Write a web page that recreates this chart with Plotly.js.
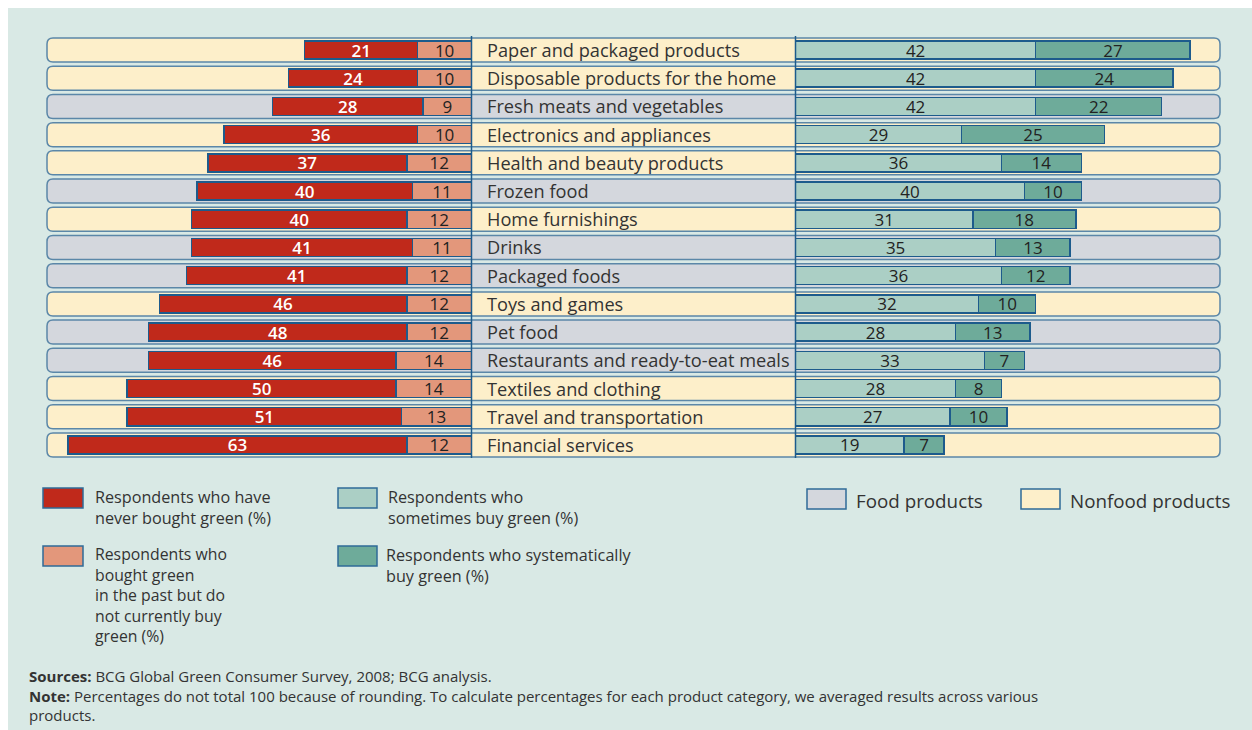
<!DOCTYPE html>
<html>
<head>
<meta charset="utf-8">
<script src="https://cdn.plot.ly/plotly-3.0.1.min.js"></script>
<style>html,body{margin:0;padding:0;background:#fff;}#chart{width:1252px;height:730px;}</style>
</head>
<body>
<div id="chart"></div>
<script>
const categories = [
  "Paper and packaged products",
  "Disposable products for the home",
  "Fresh meats and vegetables",
  "Electronics and appliances",
  "Health and beauty products",
  "Frozen food",
  "Home furnishings",
  "Drinks",
  "Packaged foods",
  "Toys and games",
  "Pet food",
  "Restaurants and ready-to-eat meals",
  "Textiles and clothing",
  "Travel and transportation",
  "Financial services"
];
const neverBought = [21, 24, 28, 36, 37, 40, 40, 41, 41, 46, 48, 46, 50, 51, 63];
const pastBought  = [10, 10,  9, 10, 12, 11, 12, 11, 12, 12, 12, 14, 14, 13, 12];
const sometimes   = [42, 42, 42, 29, 36, 40, 31, 35, 36, 32, 28, 33, 28, 27, 19];
const systematic  = [27, 24, 22, 25, 14, 10, 18, 13, 12, 10, 13,  7,  8, 10,  7];
const isFood = [false, false, true, false, false, true, false, true, true, false, true, true, false, false, false];

const legendNever = ["Respondents who have", "never bought green (%)"];
const legendPast = ["Respondents who", "bought green", "in the past but do", "not currently buy", "green (%)"];
const legendSometimes = ["Respondents who", "sometimes buy green (%)"];
const legendSystematic = ["Respondents who systematically", "buy green (%)"];
const legendFood = "Food products";
const legendNonfood = "Nonfood products";
const footerLines = [
  "<b>Sources:</b> BCG Global Green Consumer Survey, 2008; BCG analysis.",
  "<b>Note:</b> Percentages do not total 100 because of rounding. To calculate percentages for each product category, we averaged results across various",
  "products."
];

// ---- layout helpers (pixel -> paper) ----
const W = 1252, H = 730;
const px = x => x / W;
const py = y => 1 - y / H;

const C = {
  bg: "#d9e9e5",
  red: "#c0291b",
  salmon: "#e3977b",
  teal1: "#abcfc5",
  teal2: "#6eab9a",
  food: "#d4d7dd",
  nonfood: "#fdefca",
  pillLine: "#5b87a8",
  barLine: "#1d5b8c",
  text: "#333333"
};
const FONT = "Open Sans, Noto Sans, sans-serif";

const rowTop = 35.9, rowStep = 28.21;
const rowCenter = i => rowTop + rowStep * (i + 0.5);

function roundRect(x0, y0, x1, y1, r) {
  const rx = r / W, ry = r / H;
  const X0 = px(x0), X1 = px(x1), Y0 = py(y0), Y1 = py(y1);
  return `M ${X0 + rx},${Y0} L ${X1 - rx},${Y0} Q ${X1},${Y0} ${X1},${Y0 - ry} ` +
         `L ${X1},${Y1 + ry} Q ${X1},${Y1} ${X1 - rx},${Y1} L ${X0 + rx},${Y1} ` +
         `Q ${X0},${Y1} ${X0},${Y1 + ry} L ${X0},${Y0 - ry} Q ${X0},${Y0} ${X0 + rx},${Y0} Z`;
}

const shapes = [];
shapes.push({type: "rect", xref: "paper", yref: "paper", x0: px(8), x1: 1, y0: 0, y1: py(8),
  fillcolor: C.bg, line: {width: 0}, layer: "below"});
categories.forEach((c, i) => {
  const yc = rowCenter(i);
  shapes.push({type: "path", xref: "paper", yref: "paper", path: roundRect(47, yc - 12, 1220, yc + 12, 6),
    fillcolor: isFood[i] ? C.food : C.nonfood, line: {color: C.pillLine, width: 1.5}, layer: "below"});
});
[471.5, 795.5].forEach(x => shapes.push({type: "line", xref: "paper", yref: "paper",
  x0: px(x), x1: px(x), y0: py(36), y1: py(458), line: {color: C.barLine, width: 1.5}, layer: "above"}));

function swatch(x0, y0, x1, y1, color) {
  shapes.push({type: "rect", xref: "paper", yref: "paper", x0: px(x0), x1: px(x1), y0: py(y1), y1: py(y0),
    fillcolor: color, line: {color: "#2f6b98", width: 1.5}});
}
swatch(43, 488, 83, 508, C.red);
swatch(43, 546, 83, 566, C.salmon);
swatch(338, 488, 377, 508, C.teal1);
swatch(338, 546, 377, 566, C.teal2);
swatch(807, 489, 846, 509, C.food);
swatch(1021, 489, 1060, 509, C.nonfood);

const annotations = [];
categories.forEach((c, i) => annotations.push({xref: "paper", yref: "y", x: px(485), y: c,
  text: c, showarrow: false, xanchor: "left", yanchor: "middle",
  font: {family: FONT, size: 18.2, color: C.text}}));

function textBlock(x, yTop, lines, size) {
  annotations.push({xref: "paper", yref: "paper", x: px(x), y: py(yTop), text: lines.join("<br>"),
    showarrow: false, xanchor: "left", yanchor: "top", align: "left",
    font: {family: FONT, size: size, color: C.text}});
}
textBlock(93, 484, legendNever, 16.2);
textBlock(93, 541, legendPast, 15.8);
textBlock(386, 484, legendSometimes, 16.2);
textBlock(384, 542, legendSystematic, 16.2);
textBlock(854, 486, [legendFood], 18.8);
textBlock(1068, 486, [legendNonfood], 18.8);
textBlock(27, 664, footerLines, 15);

const barCommon = {type: "bar", orientation: "h", y: categories, width: 0.64,
  textposition: "inside", insidetextanchor: "middle", textangle: 0, hoverinfo: "skip"};

const traces = [
  Object.assign({}, barCommon, {name: "past", x: pastBought, text: pastBought.map(String), xaxis: "x", yaxis: "y",
    marker: {color: C.salmon, line: {color: C.barLine, width: 1.5}}, textfont: {family: FONT, size: 17, color: "#222"}}),
  Object.assign({}, barCommon, {name: "never", x: neverBought, text: neverBought.map(String), xaxis: "x", yaxis: "y",
    marker: {color: C.red, line: {color: C.barLine, width: 1.5}}, textfont: {family: FONT, size: 17, color: "#ffffff", weight: 600}}),
  Object.assign({}, barCommon, {name: "sometimes", x: sometimes, text: sometimes.map(String), xaxis: "x2", yaxis: "y",
    marker: {color: C.teal1, line: {color: C.barLine, width: 1.5}}, textfont: {family: FONT, size: 17, color: "#222"}}),
  Object.assign({}, barCommon, {name: "systematic", x: systematic, text: systematic.map(String), xaxis: "x2", yaxis: "y",
    marker: {color: C.teal2, line: {color: C.barLine, width: 1.5}}, textfont: {family: FONT, size: 17, color: "#222"}})
];

const layout = {
  width: W, height: H,
  margin: {l: 0, r: 0, t: 0, b: 0},
  paper_bgcolor: "#ffffff", plot_bgcolor: "rgba(0,0,0,0)",
  barmode: "stack", showlegend: false,
  uniformtext: {mode: "show", minsize: 17},
  xaxis: {domain: [0, px(471.5)], range: [471.5 / 5.38, 0], visible: false, fixedrange: true},
  xaxis2: {domain: [px(795.5), 1], range: [0, (W - 795.5) / 5.72], visible: false, fixedrange: true},
  yaxis: {type: "category", domain: [py(rowTop + 15 * rowStep), py(rowTop)], range: [14.5, -0.5],
    visible: false, fixedrange: true},
  shapes: shapes,
  annotations: annotations
};

Plotly.newPlot("chart", traces, layout, {displayModeBar: false, staticPlot: true});
</script>
</body>
</html>
